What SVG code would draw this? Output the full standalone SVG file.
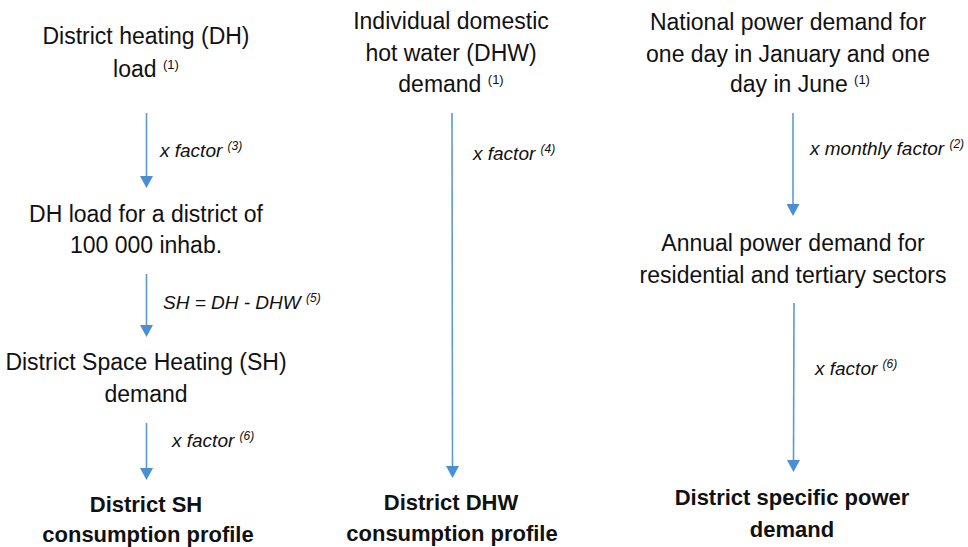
<svg xmlns="http://www.w3.org/2000/svg" width="968" height="547" viewBox="0 0 968 547">
  <defs>
    <marker id="ah" viewBox="0 0 12 13" refX="0" refY="6.5" markerWidth="12" markerHeight="13" markerUnits="userSpaceOnUse" orient="auto">
      <path d="M0,0 L12,6.5 L0,13 z" fill="#4a8fd4"/>
    </marker>
    <style>
      text { font-family: "Liberation Sans", Arial, sans-serif; fill: #111; }
      .n { font-size: 23px; text-anchor: middle; }
      .b { font-size: 22px; font-weight: bold; text-anchor: middle; }
      .l { font-size: 19px; font-style: italic; }
      .sup { font-size: 13px; }
      .lsup { font-size: 12px; }
      .conn line { stroke: #5b9bd5; stroke-width: 1.6; marker-end: url(#ah); }
    </style>
  </defs>
  <rect width="968" height="547" fill="#fff"/>

  <g id="connectors" class="conn">
    <line x1="146.5" y1="113" x2="146.5" y2="176"/>
    <line x1="146.5" y1="274" x2="146.5" y2="325"/>
    <line x1="146.5" y1="423" x2="146.5" y2="468"/>
    <line x1="452" y1="113" x2="452.5" y2="466"/>
    <line x1="793" y1="113" x2="793" y2="204"/>
    <line x1="794" y1="303" x2="793.5" y2="460"/>
  </g>

  <g id="labels">
    <text class="l" x="160" y="157">x factor <tspan class="lsup" dy="-7">(3)</tspan></text>
    <text class="l" x="163" y="309">SH = DH - DHW <tspan class="lsup" dy="-7">(5)</tspan></text>
    <text class="l" x="172" y="447">x factor <tspan class="lsup" dy="-7">(6)</tspan></text>
    <text class="l" x="473" y="160">x factor <tspan class="lsup" dy="-7">(4)</tspan></text>
    <text class="l" x="810" y="155">x monthly factor <tspan class="lsup" dy="-7">(2)</tspan></text>
    <text class="l" x="815" y="375">x factor <tspan class="lsup" dy="-7">(6)</tspan></text>
  </g>

  <g id="dh-load">
    <text class="n" x="146" y="44">District heating (DH)</text>
    <text class="n" x="146" y="77">load <tspan class="sup" dy="-8">(1)</tspan></text>
  </g>
  <g id="dh-district">
    <text class="n" x="146" y="222">DH load for a district of</text>
    <text class="n" x="146" y="253">100 000 inhab.</text>
  </g>
  <g id="sh-demand">
    <text class="n" x="146" y="370">District Space Heating (SH)</text>
    <text class="n" x="146" y="402">demand</text>
  </g>
  <g id="sh-profile">
    <text class="b" x="146" y="512">District SH</text>
    <text class="b" x="148" y="542">consumption profile</text>
  </g>

  <g id="dhw-demand">
    <text class="n" x="451" y="29">Individual domestic</text>
    <text class="n" x="451" y="61">hot water (DHW)</text>
    <text class="n" x="451" y="92">demand <tspan class="sup" dy="-8">(1)</tspan></text>
  </g>
  <g id="dhw-profile">
    <text class="b" x="451" y="510">District DHW</text>
    <text class="b" x="452" y="541">consumption profile</text>
  </g>

  <g id="national-power">
    <text class="n" x="788" y="30">National power demand for</text>
    <text class="n" x="788" y="62">one day in January and one</text>
    <text class="n" x="800" y="92">day in June <tspan class="sup" dy="-8">(1)</tspan></text>
  </g>
  <g id="annual-power">
    <text class="n" x="793" y="251">Annual power demand for</text>
    <text class="n" x="793" y="283">residential and tertiary sectors</text>
  </g>
  <g id="district-power">
    <text class="b" x="792" y="505">District specific power</text>
    <text class="b" x="792" y="537">demand</text>
  </g>
</svg>
